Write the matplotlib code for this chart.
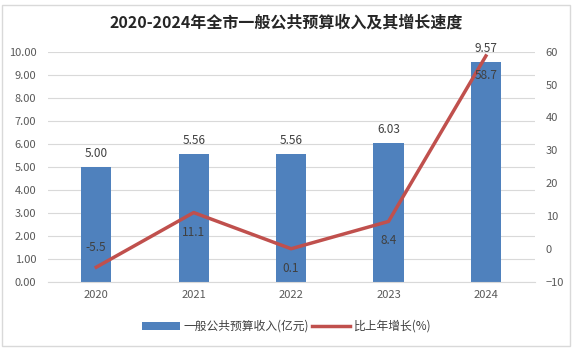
import numpy as np
import matplotlib.pyplot as plt
from matplotlib.patches import Rectangle

plt.rcParams['font.family'] = ['Noto Sans CJK SC', 'DejaVu Sans']

years = ['2020', '2021', '2022', '2023', '2024']
revenue = [5.00, 5.56, 5.56, 6.03, 9.57]
growth = [-5.5, 11.1, 0.1, 8.4, 58.7]

fig = plt.figure(figsize=(5.73, 3.49), dpi=100)
ax = fig.add_axes([0.083, 0.192, 0.85, 0.66])
ax2 = ax.twinx()

x = np.arange(len(years))
bars = ax.bar(x, revenue, width=0.31, color='#4F81BD', zorder=2,
              label='一般公共预算收入(亿元)')
line, = ax2.plot(x, growth, color='#C0504D', lw=2.5, zorder=3,
                 label='比上年增长(%)')

ax.set_ylim(0, 10)
ax.set_yticks(np.arange(0, 10.01, 1))
ax.set_yticklabels([f'{v:.2f}' for v in np.arange(0, 10.01, 1)])
ax2.set_ylim(-10, 60)
ax2.set_yticks(range(-10, 61, 10))
ax.set_xlim(-0.5, 4.5)
ax.set_xticks(x)
ax.set_xticklabels(years)

ax.grid(axis='y', color='#D9D9D9', lw=0.8, zorder=0)
for a in (ax, ax2):
    for s in a.spines.values():
        s.set_visible(False)
    a.tick_params(length=0, labelsize=8, colors='#595959')
ax.spines['bottom'].set_visible(True)
ax.spines['bottom'].set_color('#D9D9D9')
ax.tick_params(axis='x', pad=6)
ax.tick_params(axis='y', pad=8)
ax2.tick_params(axis='y', pad=8)

for xi, v in zip(x, revenue):
    ax.annotate(f'{v:.2f}', (xi, v), xytext=(0, 5), textcoords='offset points',
                ha='center', va='bottom', fontsize=8.5, color='#404040')

offsets = [14, -14, -14, -14, -14]
for xi, v, off in zip(x, growth, offsets):
    ax2.annotate(f'{v:.1f}', (xi, v), xytext=(0, off), textcoords='offset points',
                 ha='center', va='center', fontsize=8.5, color='#404040')

fig.text(0.5, 0.935, '2020-2024年全市一般公共预算收入及其增长速度',
         ha='center', va='center', fontsize=11.5, fontweight='bold', color='#262626')

fig.legend(handles=[bars, line], loc='center', bbox_to_anchor=(0.5, 0.065),
           ncol=2, frameon=False, fontsize=8.5, handlelength=3.2, columnspacing=0.3,
           handletextpad=0.3, labelcolor='#404040')

fig.patches.append(Rectangle((0.003, 0.01), 0.992, 0.975, transform=fig.transFigure,
                             fill=False, edgecolor='#D9D9D9', lw=1))

fig.savefig('out.png', dpi=100)
